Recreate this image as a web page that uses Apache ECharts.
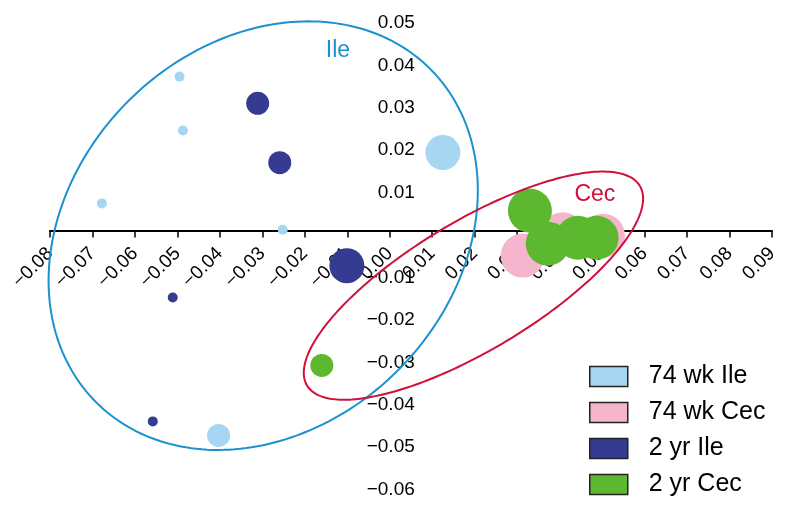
<!DOCTYPE html>
<html><head><meta charset="utf-8">
<script src="https://cdn.jsdelivr.net/npm/echarts@6/dist/echarts.min.js"></script>
<style>html,body{margin:0;padding:0;background:#fff}#c{width:797px;height:510px}</style>
</head><body><div id="c"></div>
<script>
// Axis ticks (data units)
const xTicks = [-0.08,-0.07,-0.06,-0.05,-0.04,-0.03,-0.02,-0.01,0.00,0.01,0.02,0.03,0.04,0.05,0.06,0.07,0.08,0.09];
const yTicks = [-0.06,-0.05,-0.04,-0.03,-0.02,-0.01,0.00,0.01,0.02,0.03,0.04,0.05];

// Series: [x, y, weight class]
const ile74 = [[-0.0495,0.0363,1],[-0.0487,0.0236,1],[-0.0678,0.0064,1],[-0.0252,0.0002,1],[0.0125,0.0184,3],[-0.0403,-0.0483,2]];
const cec74 = [[0.0313,-0.0059,4],[0.0407,-0.0009,4],[0.0502,-0.0012,4]];
const ile2yr = [[-0.0311,0.0300,2],[-0.0259,0.0160,2],[-0.0101,-0.0083,3],[-0.0511,-0.0158,1],[-0.0558,-0.0450,1]];
const cec2yr = [[-0.0160,-0.0318,2],[0.0330,0.0047,4],[0.0372,-0.0031,4],[0.0443,-0.0017,4],[0.0487,-0.0017,4]];

// Group ellipses: [cx, cy, semi-major, semi-minor, angle deg]
const ileEllipse = [[-0.0298,-0.0012,0.0556,0.0449,45]];
const cecEllipse = [[0.0197,-0.0130,0.0457,0.0152,31]];
const ellipseLabels = {Ile:[-0.0122,0.0425], Cec:[0.0483,0.0085]};

const seriesNames = ['74 wk Ile','74 wk Cec','2 yr Ile','2 yr Cec'];

const colors = {ile74:'#a7d6f3', cec74:'#f5b5cc', ile2yr:'#353b90', cec2yr:'#5cb82e'};
const diam = {1:10, 2:23, 3:35, 4:44};
const FONT = '"Liberation Sans", Arial, Helvetica, sans-serif';

// layout
const G = {left:50, right:25, top:18.5, bottom:25, W:797, H:510};
const gw = G.W - G.left - G.right, gh = G.H - G.top - G.bottom;
const xZeroPx = G.left + (0 - xTicks[0]) / (xTicks[xTicks.length-1] - xTicks[0]) * gw;
const yZeroPx = G.top + (yTicks[yTicks.length-1] - 0) / (yTicks[yTicks.length-1] - yTicks[0]) * gh;

function fmt(v){
  if (Math.abs(v) < 1e-9) return '0.00';
  return v.toFixed(2).replace('-', '\u2212');
}

function ellipseSeries(name, data, color, labelText) {
  return {
    type:'custom', name:name, data:data, z:5, silent:true,
    encode:{x:0, y:1},
    renderItem:function(params, api){
      const cx=api.value(0), cy=api.value(1), a=api.value(2), b=api.value(3), ang=api.value(4)*Math.PI/180;
      const pts=[];
      for(let i=0;i<=240;i++){
        const t=i/240*2*Math.PI;
        const x=cx+a*Math.cos(t)*Math.cos(ang)-b*Math.sin(t)*Math.sin(ang);
        const y=cy+a*Math.cos(t)*Math.sin(ang)+b*Math.sin(t)*Math.cos(ang);
        pts.push(api.coord([x,y]));
      }
      const lp = api.coord(ellipseLabels[labelText]);
      return {type:'group', children:[
        {type:'polyline', shape:{points:pts}, style:{stroke:color, lineWidth:2, fill:null}},
        {type:'text', x:lp[0], y:lp[1], style:{text:labelText, fill:color, font:'23px '+FONT, align:'center', verticalAlign:'middle'}}
      ]};
    }
  };
}

function scatter(name, data, color){
  return {type:'scatter', name:name, data:data, z:3,
    symbolSize:function(v){return diam[v[2]];},
    itemStyle:{color:color, opacity:1}, emphasis:{disabled:true}};
}

const chart = echarts.init(document.getElementById('c'), null, {renderer:'canvas'});
chart.setOption({
  animation:false,
  backgroundColor:'#fff',
  textStyle:{fontFamily:FONT},
  grid:{left:G.left, right:G.right, top:G.top, bottom:G.bottom, containLabel:false, outerBoundsMode:'none'},
  xAxis:{type:'value', min:xTicks[0], max:xTicks[xTicks.length-1], interval:0.01,
    position:'bottom', offset:-(G.H - G.bottom - yZeroPx),
    axisLine:{onZero:false, lineStyle:{color:'#000', width:2}},
    axisTick:{show:true, length:7, lineStyle:{color:'#000', width:1.5}},
    splitLine:{show:false},
    axisLabel:{rotate:45, margin:20, fontSize:19, color:'#000', fontFamily:FONT, formatter:fmt, showMinLabel:true, showMaxLabel:true}
  },
  yAxis:{type:'value', min:yTicks[0], max:yTicks[yTicks.length-1], interval:0.01,
    position:'left', offset:-(xZeroPx - G.left),
    axisLine:{show:false, onZero:false},
    axisTick:{show:false},
    splitLine:{show:false},
    axisLabel:{margin:-25, fontSize:19, color:'#000', fontFamily:FONT, showMinLabel:true, showMaxLabel:true,
      verticalAlign:'top', lineHeight:9,
      formatter:function(v){ return Math.abs(v)<1e-9 ? '' : fmt(v); }}
  },
  legend:{data:seriesNames, orient:'vertical', left:589, top:364, padding:0,
    icon:'rect', itemWidth:38, itemHeight:20, itemGap:11,
    itemStyle:{borderColor:'#222', borderWidth:1.5},
    textStyle:{fontSize:25, color:'#000', fontFamily:FONT, lineHeight:20, padding:[0,0,0,16]},
    selectedMode:false
  },
  series:[
    scatter(seriesNames[0], ile74, colors.ile74),
    scatter(seriesNames[2], ile2yr, colors.ile2yr),
    scatter(seriesNames[1], cec74, colors.cec74),
    scatter(seriesNames[3], cec2yr, colors.cec2yr),
    ellipseSeries('ileEllipse', ileEllipse, '#1b91cf', 'Ile'),
    ellipseSeries('cecEllipse', cecEllipse, '#d0103a', 'Cec')
  ]
});
</script></body></html>
